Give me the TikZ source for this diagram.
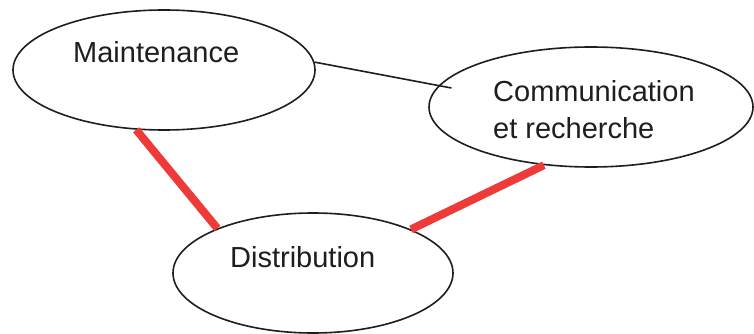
\documentclass[tikz,border=0pt]{standalone}
\usepackage{fontspec}
\setmainfont{Liberation Sans}
\usetikzlibrary{shapes.geometric}
\definecolor{linkred}{RGB}{238,58,56}
\definecolor{inkgray}{RGB}{30,30,30}
\begin{document}
\begin{tikzpicture}[x=1pt,y=-1pt,
  bubble/.style={ellipse,draw=inkgray,line width=1.6pt,inner sep=0pt,fill=none},
  lbl/.style={anchor=base west,inner sep=0pt,text=inkgray,font=\fontsize{29}{36}\selectfont},
  thin link/.style={draw=inkgray,line width=1.6pt},
  thick link/.style={draw=linkred,line width=8pt}]
\useasboundingbox[fill=white] (0,0) rectangle (754,334);
\node[bubble,minimum width=302pt,minimum height=120pt] (maint) at (164,70) {};
\node[bubble,minimum width=324pt,minimum height=120pt] (comm) at (591,107) {};
\node[bubble,minimum width=280pt,minimum height=120pt] (distr) at (313,273) {};
\node[lbl] (tmaint) at (73,63) {Maintenance};
\node[lbl] (tcomm1) at (493,102) {Communication};
\node[lbl] (tcomm2) at (493,138) {et recherche};
\node[lbl] (tdistr) at (230,267) {Distribution};
\draw[thin link,shorten >=-13pt] (maint.3) -- (comm.172);
\draw[thick link] (maint.245) -- (distr.155);
\draw[thick link] (distr.24) -- (comm.231);
\end{tikzpicture}
\end{document}
